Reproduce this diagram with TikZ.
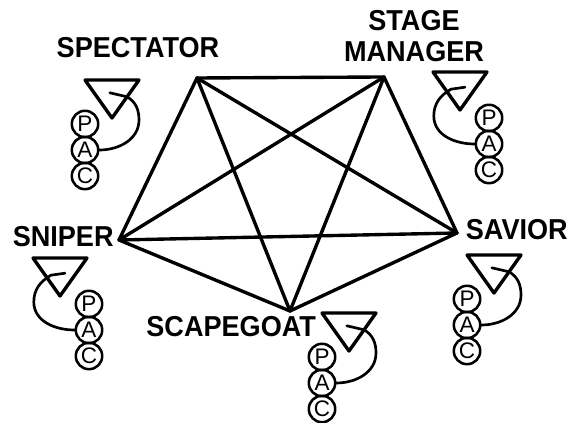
\documentclass[tikz,border=0pt]{standalone}
\usepackage{fontspec}
\setmainfont{Liberation Sans}
\newfontfamily\rolefont[FakeStretch=0.94]{Liberation Sans}
\usetikzlibrary{calc}

\tikzset{
  role/.style={font=\rolefont\fontsize{20.5}{22}\selectfont\bfseries, inner sep=0pt, align=center},
  ego/.style={circle, draw, line width=1.8pt, minimum size=0.66cm, inner sep=0pt, font=\fontsize{16}{16}\selectfont},
  tie/.style={line width=2.4pt, line cap=round},
  hook/.style={line width=1.9pt, line cap=round},
}

\begin{document}
\begin{tikzpicture}
  \useasboundingbox (0,0) rectangle (14.35,10.575);

  % Rollen
  \node[role] (spectator) at (3.45,9.375) {SPECTATOR};
  \node[role] (stagemgr) at (10.35,9.68) {STAGE\\MANAGER};
  \node[role] (sniper) at (1.58,4.65) {SNIPER};
  \node[role] (savior) at (12.92,4.825) {SAVIOR};
  \node[role] (scapegoat) at (5.78,2.4) {SCAPEGOAT};

  % Ecken des Fuenfecks
  \coordinate (spe) at (4.925,8.625);
  \coordinate (stg) at (9.6,8.65);
  \coordinate (sav) at (11.425,4.75);
  \coordinate (scp) at (7.25,2.8);
  \coordinate (snp) at (2.975,4.575);

  \foreach \a/\b in {spe/stg, spe/sav, spe/scp, spe/snp, stg/sav, stg/scp, stg/snp, sav/scp, sav/snp, scp/snp}
    \draw[tie] (\a) -- (\b);

  % PAC links
  \foreach \x/\y/\g in {2.125/8.575/a, 8.05/2.75/d, 11.675/4.2/e} {
    \begin{scope}[shift={(\x,\y)}]
      \draw[tie, line join=round] (0,0) -- (1.35,0) -- (0.675,-0.95) -- cycle;
      \node[ego] (\g P) at (0,-1.1) {P};
      \node[ego] (\g A) at (0,-1.75) {A};
      \node[ego] (\g C) at (0,-2.4) {C};
      \draw[hook] (\g A.east) to[out=0,in=-90] (1.35,-1.0) to[out=90,in=-30] (1.05,-0.42) -- (0.62,-0.32);
    \end{scope}
  }

  % PAC rechts
  \foreach \x/\y/\g in {10.825/8.775/b, 0.825/4.125/c} {
    \begin{scope}[shift={(\x,\y)}]
      \draw[tie, line join=round] (0,0) -- (1.35,0) -- (0.675,-0.95) -- cycle;
      \node[ego] (\g P) at (1.4,-1.15) {P};
      \node[ego] (\g A) at (1.4,-1.8) {A};
      \node[ego] (\g C) at (1.4,-2.45) {C};
      \draw[hook] (\g A.west) to[out=180,in=-90] (0.02,-1.1) to[out=90,in=210] (0.45,-0.43) -- (0.8,-0.38);
    \end{scope}
  }
\end{tikzpicture}
\end{document}
